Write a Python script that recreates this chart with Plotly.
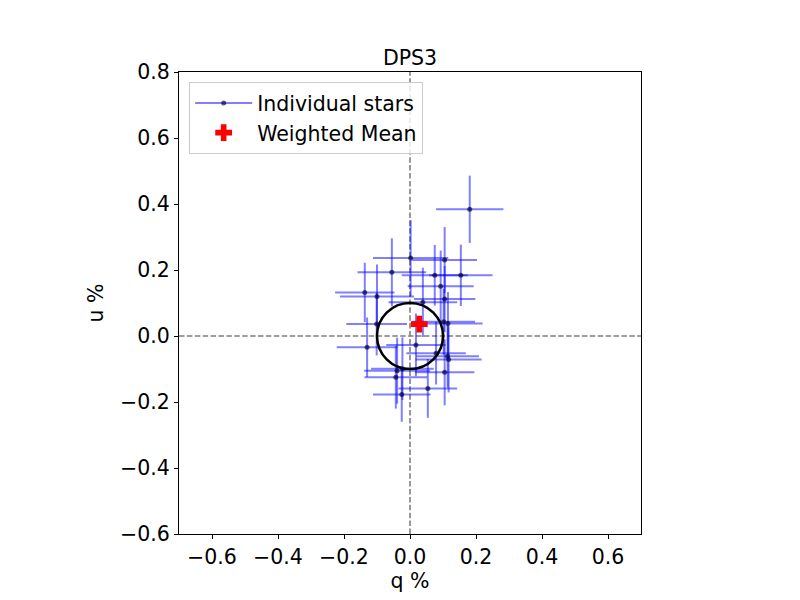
import plotly.graph_objects as go

# individual stars: q, u (percent) with errors
q = [0.181, 0.002, 0.105, -0.055, 0.075, 0.154, 0.093, -0.137, -0.100, 0.105,
     0.039, -0.101, 0.102, 0.115, -0.130, 0.018, 0.079, 0.114, 0.117, -0.023,
     -0.039, -0.043, 0.105, 0.054, -0.025]
u = [0.384, 0.236, 0.230, 0.193, 0.184, 0.184, 0.151, 0.132, 0.120, 0.112,
     0.102, 0.036, 0.043, 0.038, -0.034, -0.027, -0.052, -0.061, -0.071, -0.099,
     -0.105, -0.125, -0.110, -0.159, -0.177]
q_err = [0.102, 0.114, 0.098, 0.104, 0.100, 0.096, 0.100, 0.090, 0.112, 0.093,
         0.104, 0.092, 0.095, 0.105, 0.092, 0.090, 0.090, 0.095, 0.100, 0.095,
         0.100, 0.095, 0.090, 0.089, 0.087]
u_err = [0.102, 0.115, 0.100, 0.103, 0.092, 0.093, 0.108, 0.090, 0.097, 0.100,
         0.105, 0.095, 0.100, 0.095, 0.090, 0.095, 0.095, 0.095, 0.100, 0.095,
         0.100, 0.095, 0.100, 0.089, 0.083]

mean_q = [0.028]
mean_u = [0.036]
circle_r = 0.1

x_ticks = [-0.6, -0.4, -0.2, 0.0, 0.2, 0.4, 0.6]
y_ticks = [-0.6, -0.4, -0.2, 0.0, 0.2, 0.4, 0.6, 0.8]

font = dict(family="DejaVu Sans", size=20.5, color="black")
blue = "rgba(0,0,255,0.5)"
dot = "rgba(0,0,40,0.65)"
dashed = dict(color="gray", width=1.6, dash="5.5px,2.4px")

fig = go.Figure()

fig.add_trace(go.Scatter(
    x=q, y=u, mode="markers",
    marker=dict(color=dot, size=5),
    error_x=dict(type="data", array=q_err, color=blue, thickness=2, width=0),
    error_y=dict(type="data", array=u_err, color=blue, thickness=2, width=0),
    showlegend=False, hoverinfo="x+y",
))
# legend entry for the stars
fig.add_trace(go.Scatter(
    x=[None], y=[None], mode="lines+markers", name="Individual stars",
    line=dict(color=blue, width=2),
    marker=dict(color=dot, size=5),
))
fig.add_trace(go.Scatter(
    x=mean_q, y=mean_u, mode="markers", name="Weighted Mean",
    marker=dict(symbol="cross", color="red", size=14),
))

fig.add_shape(type="line", xref="x", yref="paper", x0=0, x1=0, y0=0, y1=1,
              line=dashed, layer="below")
fig.add_shape(type="line", xref="paper", yref="y", x0=0, x1=1, y0=0, y1=0,
              line=dashed, layer="below")
fig.add_shape(type="circle", xref="x", yref="y",
              x0=-circle_r, x1=circle_r, y0=-circle_r, y1=circle_r,
              line=dict(color="black", width=2.5))

axis = dict(showgrid=False, zeroline=False, showline=True, mirror=True,
            linecolor="black", linewidth=1, ticks="outside", ticklen=4,
            tickcolor="black", tickformat=".1f", tickfont=font)

# page body adds 8px, so margins are shifted to keep the axes box in place
fig.update_layout(
    width=800, height=600,
    margin=dict(l=171, r=167, t=64, b=74),
    paper_bgcolor="white", plot_bgcolor="white",
    font=font,
    title=dict(text="DPS3", x=0.5, xanchor="center", xref="paper",
               y=1, yref="paper", yanchor="bottom", pad=dict(b=7), font=font),
    xaxis=dict(axis, range=[-0.7, 0.7], tickvals=x_ticks,
               title=dict(text="q %", font=font, standoff=4)),
    yaxis=dict(axis, range=[-0.6, 0.8], tickvals=y_ticks,
               title=dict(text="u %", font=font, standoff=10)),
    legend=dict(x=0.022, y=0.978, xanchor="left", yanchor="top",
                bgcolor="rgba(255,255,255,0.8)", bordercolor="#cccccc",
                borderwidth=1, font=font, itemwidth=57),
)

fig.write_html("out.html")
